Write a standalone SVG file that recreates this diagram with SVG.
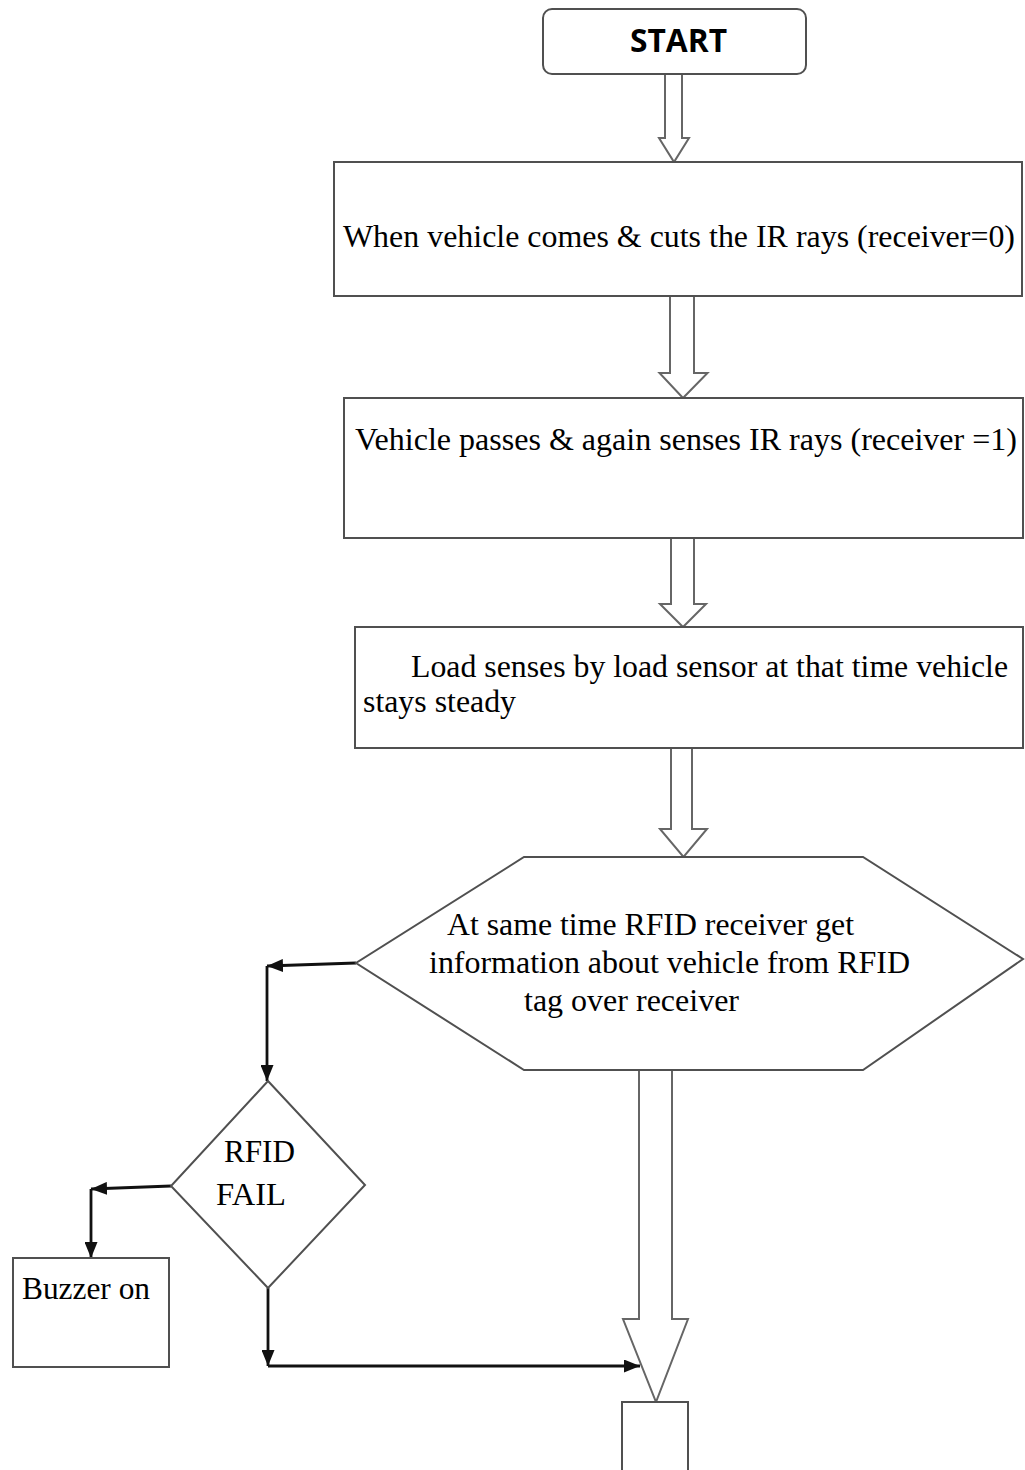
<svg xmlns="http://www.w3.org/2000/svg" width="1025" height="1470" viewBox="0 0 1025 1470">
<style>
.box{fill:#fff;stroke:#505050;stroke-width:2}
.harrow{fill:#fff;stroke:#666;stroke-width:2;stroke-linejoin:miter}
.conn{fill:none;stroke:#111;stroke-width:2.8}
.t{font-family:"Liberation Serif","Times New Roman",serif;font-size:32px;fill:#000}
.tb{font-family:"Open Sans","Liberation Sans",sans-serif;font-size:33px;font-weight:bold;fill:#000}
</style>
<defs>
<marker id="ah" viewBox="0 0 16 13" refX="16" refY="6.5" markerWidth="16" markerHeight="13" markerUnits="userSpaceOnUse" orient="auto">
<path d="M0,0 L16,6.5 L0,13 z" fill="#111"/>
</marker>
</defs>
<rect width="1025" height="1470" fill="#fff"/>

<g id="connectors">
<path class="harrow" d="M665,74 V138 H659 L674,162 L689,138 H682 V74"/>
<path class="harrow" d="M670,296 V373 H659.5 L683,398 L707.5,373 H694 V296"/>
<path class="harrow" d="M671,538 V604 H660 L683,627 L706,604 H694 V538"/>
<path class="harrow" d="M671,748 V829 H660 L683.5,857 L707,829 H692 V748"/>
<path class="harrow" d="M639,1070 V1319 H623 L656,1402 L688,1319 H672 V1070"/>
<path class="conn" d="M356,963 L267,966" marker-end="url(#ah)"/>
<path class="conn" d="M267,966 V1081" marker-end="url(#ah)"/>
<path class="conn" d="M171,1186 L91,1189" marker-end="url(#ah)"/>
<path class="conn" d="M91,1189 V1258" marker-end="url(#ah)"/>
<path class="conn" d="M268,1288 V1366" marker-end="url(#ah)"/>
<path class="conn" d="M268,1366 H640" marker-end="url(#ah)"/>
</g>

<g id="start">
<rect class="box" x="543" y="9" width="263" height="65" rx="9"/>
<text class="tb" x="630" y="52" textLength="97" lengthAdjust="spacingAndGlyphs">START</text>
</g>

<g id="box1">
<rect class="box" x="334" y="162" width="688" height="134"/>
<text class="t" x="343" y="247" textLength="672" lengthAdjust="spacingAndGlyphs">When vehicle comes &amp; cuts the IR rays (receiver=0)</text>
</g>

<g id="box2">
<rect class="box" x="344" y="398" width="679" height="140"/>
<text class="t" x="355" y="450" textLength="662" lengthAdjust="spacingAndGlyphs">Vehicle passes &amp; again senses IR rays (receiver =1)</text>
</g>

<g id="box3">
<rect class="box" x="355" y="627" width="668" height="121"/>
<text class="t" x="411" y="677" textLength="597" lengthAdjust="spacingAndGlyphs">Load senses by load sensor at that time vehicle</text>
<text class="t" x="363" y="712" textLength="153" lengthAdjust="spacingAndGlyphs">stays steady</text>
</g>

<g id="rfid-read">
<polygon class="box" points="524,857 863,857 1023,959 863,1070 524,1070 356,963"/>
<text class="t" x="447" y="935" textLength="407" lengthAdjust="spacingAndGlyphs">At same time RFID receiver get</text>
<text class="t" x="429" y="973" textLength="481" lengthAdjust="spacingAndGlyphs">information about vehicle from RFID</text>
<text class="t" x="524" y="1011" textLength="215" lengthAdjust="spacingAndGlyphs">tag over receiver</text>
</g>

<g id="rfid-fail">
<polygon class="box" points="268,1081 365,1185 268,1288 171,1186"/>
<text class="t" x="224" y="1162" textLength="71" lengthAdjust="spacingAndGlyphs">RFID</text>
<text class="t" x="216" y="1205" textLength="70" lengthAdjust="spacingAndGlyphs">FAIL</text>
</g>

<g id="buzzer">
<rect class="box" x="13" y="1258" width="156" height="109"/>
<text class="t" x="22" y="1299" textLength="128" lengthAdjust="spacingAndGlyphs">Buzzer on</text>
</g>

<g id="next">
<path class="box" d="M622,1472 V1402 H688 V1472"/>
</g>
</svg>
